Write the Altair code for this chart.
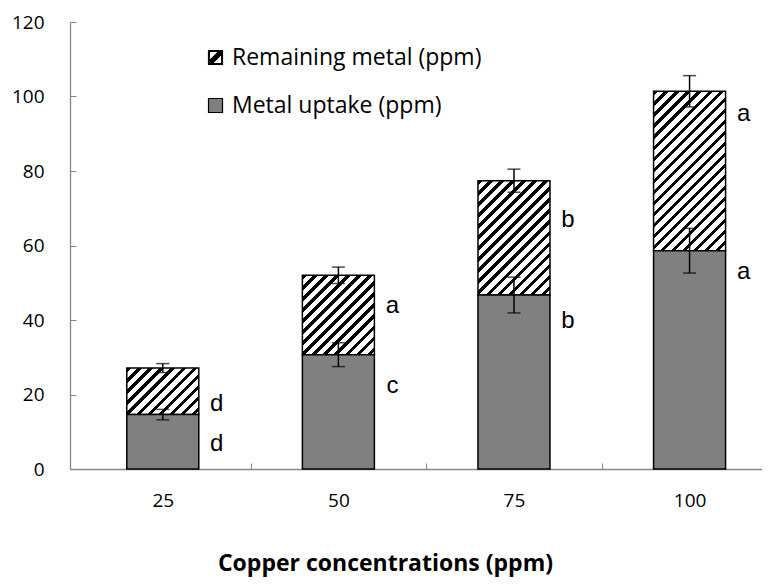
import altair as alt
import pandas as pd
import numpy as np

# ---- data ----
conc = [25, 50, 75, 100]
uptake = [14.6, 30.7, 46.7, 58.6]
uptake_err = [1.4, 3.2, 4.8, 6.0]
total = [27.1, 52.0, 77.4, 101.4]
total_err = [1.2, 2.2, 3.1, 4.2]
remaining_letters = ["d", "a", "b", "a"]
uptake_letters = ["d", "c", "b", "a"]
remaining_letter_y = [15.5, 41.9, 65.1, 93.3]
uptake_letter_y = [4.9, 20.3, 37.9, 50.9]
series = ["Remaining metal (ppm)", "Metal uptake (ppm)"]
y_ticks = [0, 20, 40, 60, 80, 100, 120]
x_boundaries = [37.5, 62.5, 87.5]
x_title = "Copper concentrations (ppm)"

# ---- layout / style ----
TOP = 14
PW, PH = 692, 447
BAR_W = 72
X_DOM = [12.5, 109.6]
Y_DOM = [0, 120]
GRAY = "#808080"
AXIS_GRAY = "#868686"
FONT = "Open Sans"

xs = alt.Scale(domain=X_DOM, nice=False, zero=False)
ys = alt.Scale(domain=Y_DOM, nice=False, zero=False)


def hatch(W, H, period=7.8, black=0.40):
    k = (W + H) / (W * W + H * H)
    dx, dy = W * k, H * k
    n = (W + H) / np.sqrt(2) / period
    stops = []
    i = 0
    while i / n < 1:
        a = i / n
        b = min((i + black) / n, 1.0)
        c = min((i + 1) / n, 1.0)
        stops += [
            alt.GradientStop(offset=float(a), color="black"),
            alt.GradientStop(offset=float(b), color="black"),
            alt.GradientStop(offset=float(b), color="white"),
            alt.GradientStop(offset=float(c), color="white"),
        ]
        i += 1
    return alt.LinearGradient(gradient="linear", x1=0, y1=0, x2=float(dx), y2=float(dy), stops=stops)


df = pd.DataFrame({"conc": conc, "uptake": uptake, "total": total})
df["series"] = series[1]

px_per_unit = PH / (Y_DOM[1] - Y_DOM[0])

rem_path = ("M-1,-1L1,-1L1,1L-1,1Z"
            "M-0.88,-0.88L-0.88,0.88L0.88,0.88L0.88,-0.88Z"
            "M-1,0.6L0.6,-1L1,-1L1,-0.6L-0.6,1L-1,1Z")

legend_spec = dict(orient="none", legendX=134, legendY=27 - (TOP - 11), title=None,
                   labelFont=FONT, labelFontSize=23, labelColor="black",
                   labelLimit=500, labelOffset=5, rowPadding=24,
                   symbolSize=196, symbolStrokeColor="black", symbolStrokeWidth=1.2)
fill_scale = alt.Scale(domain=series, range=["black", GRAY])

layers = []

# remaining (hatched) bars, one per concentration
for i, c in enumerate(conc):
    H = (total[i] - uptake[i]) * px_per_unit
    enc = dict(
        x=alt.X("conc:Q", scale=xs, axis=None),
        y=alt.Y("uptake:Q", scale=ys, axis=None),
        y2="total:Q",
    )
    if i == 0:
        enc["x"] = alt.X(
            "conc:Q", scale=xs,
            axis=alt.Axis(orient="top", offset=-PH, values=x_boundaries, tickSize=6,
                          tickColor=AXIS_GRAY, tickWidth=1, labels=False, domain=False,
                          grid=False, title=None),
        )
        enc["y"] = alt.Y(
            "uptake:Q", scale=ys,
            axis=alt.Axis(orient="right", offset=-PW, values=y_ticks, tickSize=6,
                          tickColor=AXIS_GRAY, tickWidth=1, labels=False, domain=False,
                          grid=False, title=None),
        )
    layers.append(
        alt.Chart(df[df["conc"] == c])
        .mark_bar(size=BAR_W, fill=hatch(BAR_W, H), stroke="black", strokeWidth=1.5)
        .encode(**enc)
    )

# metal uptake (gray) bars, carrying the main axes
layers.append(
    alt.Chart(df)
    .mark_bar(size=BAR_W, stroke="black", strokeWidth=1.5)
    .encode(
        x=alt.X("conc:Q", scale=xs,
                axis=alt.Axis(orient="bottom", values=conc, ticks=False, domainColor=AXIS_GRAY,
                              domainWidth=1.3, labelFont=FONT, labelFontSize=19, labelColor="black",
                              labelPadding=22, grid=False, title=x_title, titleFont=FONT,
                              titleFontSize=23, titleFontWeight="bold", titleColor="black",
                              titleX=315, titleY=94, titleBaseline="middle", titleAlign="center",
                              titleAnchor="start")),
        y=alt.Y("uptake:Q", scale=ys,
                axis=alt.Axis(orient="left", values=y_ticks, ticks=False, domainColor=AXIS_GRAY,
                              domainWidth=1.3, labelFont=FONT, labelFontSize=19, labelColor="black",
                              labelPadding=26, grid=False, title=None)),
        fill=alt.Fill("series:N", scale=fill_scale, legend=alt.Legend(**legend_spec)),
    )
)

# legend carrier (no points drawn)
legend_df = pd.DataFrame({"series": series, "conc": [conc[0]] * 2, "v": [0, 0]})
layers.append(
    alt.Chart(legend_df)
    .transform_filter("datum.v > 1")
    .mark_point(filled=True, size=196, stroke="black", strokeWidth=1.2, opacity=1)
    .encode(
        x=alt.X("conc:Q", scale=xs, axis=None),
        y=alt.Y("v:Q", scale=ys, axis=None),
        fill=alt.Fill("series:N", scale=fill_scale, legend=alt.Legend(**legend_spec)),
        shape=alt.Shape("series:N", scale=alt.Scale(domain=series, range=[rem_path, "square"]),
                        legend=alt.Legend(**legend_spec)),
    )
)

# error bars
err_df = pd.DataFrame({"conc": conc * 2, "mid": uptake + total, "err": uptake_err + total_err})
err_base = alt.Chart(err_df).transform_calculate(
    lo="datum.mid - datum.err", hi="datum.mid + datum.err"
)
layers.append(
    err_base.mark_rule(color="black", strokeWidth=1.5).encode(
        x=alt.X("conc:Q", scale=xs, axis=None),
        y=alt.Y("lo:Q", scale=ys, axis=None),
        y2="hi:Q",
    )
)
for f in ["lo", "hi"]:
    layers.append(
        err_base.mark_tick(color="black", thickness=1.5, size=13, orient="horizontal").encode(
            x=alt.X("conc:Q", scale=xs, axis=None),
            y=alt.Y(f"{f}:Q", scale=ys, axis=None),
        )
    )

# significance letters
let_df = pd.DataFrame({
    "conc": conc * 2,
    "letter": remaining_letters + uptake_letters,
    "ly": remaining_letter_y + uptake_letter_y,
})
layers.append(
    alt.Chart(let_df).mark_text(font="Liberation Sans", fontSize=24, dx=54, align="center",
                                baseline="alphabetic", color="black").encode(
        x=alt.X("conc:Q", scale=xs, axis=None),
        y=alt.Y("ly:Q", scale=ys, axis=None),
        text="letter:N",
    )
)

chart = (
    alt.layer(*layers)
    .resolve_axis(x="independent", y="independent")
    .properties(
        width=PW, height=PH,
        autosize=alt.AutoSizeParams(type="none"),
        padding={"left": 62, "top": TOP, "right": 0, "bottom": 108},
        background="white",
    )
    .configure_view(stroke=None)
)

chart.save("out.html", embed_options={"renderer": "svg", "actions": False})
